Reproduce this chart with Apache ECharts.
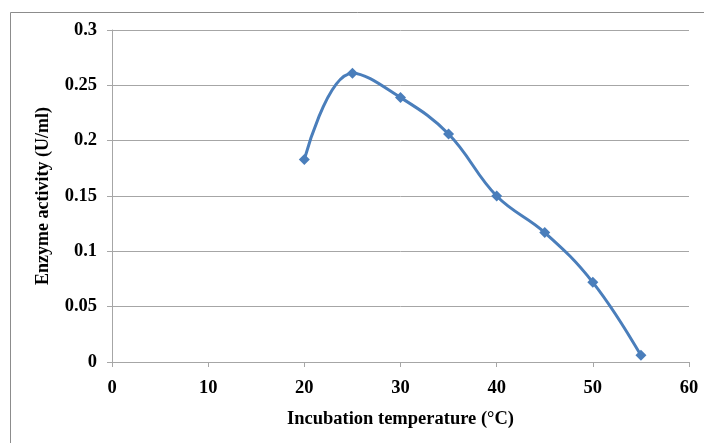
<!DOCTYPE html>
<html>
<head>
<meta charset="utf-8">
<script src="https://cdn.jsdelivr.net/npm/echarts@6/dist/echarts.min.js"></script>
<style>
html,body{margin:0;padding:0;background:#fff;}
#c{width:704px;height:443px;}
</style>
</head>
<body>
<div id="c"></div>
<script>
var temperatures = [20, 25, 30, 35, 40, 45, 50, 55];
var activity = [0.183, 0.261, 0.239, 0.206, 0.150, 0.117, 0.072, 0.006];
var xTitle = 'Incubation temperature (°C)';
var yTitle = 'Enzyme activity (U/ml)';

var chart = echarts.init(document.getElementById('c'), null, {renderer: 'canvas'});
var font = '"Liberation Serif", "Times New Roman", serif';
var data = temperatures.map(function (t, i) { return [t, activity[i]]; });
chart.setOption({
  animation: false,
  backgroundColor: '#fff',
  graphic: [{
    type: 'rect',
    shape: {x: 10.5, y: 12.5, width: 710, height: 450},
    style: {fill: 'none', stroke: '#8c8c8c', lineWidth: 1},
    silent: true
  }],
  grid: {left: 112, right: 15, top: 30, bottom: 81, containLabel: false},
  xAxis: {
    type: 'value', min: 0, max: 60, interval: 10,
    name: xTitle, nameLocation: 'middle', nameGap: 48,
    nameTextStyle: {fontFamily: font, fontWeight: 'bold', fontSize: 18.5, color: '#000'},
    axisLine: {show: true, lineStyle: {color: '#a6a6a6', width: 1}},
    axisTick: {show: true, length: 5, inside: false, lineStyle: {color: '#a6a6a6'}},
    axisLabel: {fontFamily: font, fontWeight: 'bold', fontSize: 18.5, color: '#000', margin: 17},
    splitLine: {show: false}
  },
  yAxis: {
    type: 'value', min: 0, max: 0.3, interval: 0.05,
    name: yTitle, nameLocation: 'middle', nameGap: 60,
    nameTextStyle: {fontFamily: font, fontWeight: 'bold', fontSize: 18, color: '#000'},
    axisLine: {show: true, lineStyle: {color: '#a6a6a6', width: 1}},
    axisTick: {show: true, length: 5, inside: false, lineStyle: {color: '#a6a6a6'}},
    axisLabel: {fontFamily: font, fontWeight: 'bold', fontSize: 18.5, color: '#000', margin: 15,
      formatter: function (v) { return String(+v.toFixed(2)); }},
    splitLine: {show: true, lineStyle: {color: '#a6a6a6', width: 1}}
  },
  series: [{
    type: 'line',
    data: data,
    smooth: 0.4,
    symbol: 'diamond',
    symbolSize: 11,
    lineStyle: {color: '#4a7ebb', width: 3},
    itemStyle: {color: '#4a7ebb'}
  }]
});
</script>
</body>
</html>
